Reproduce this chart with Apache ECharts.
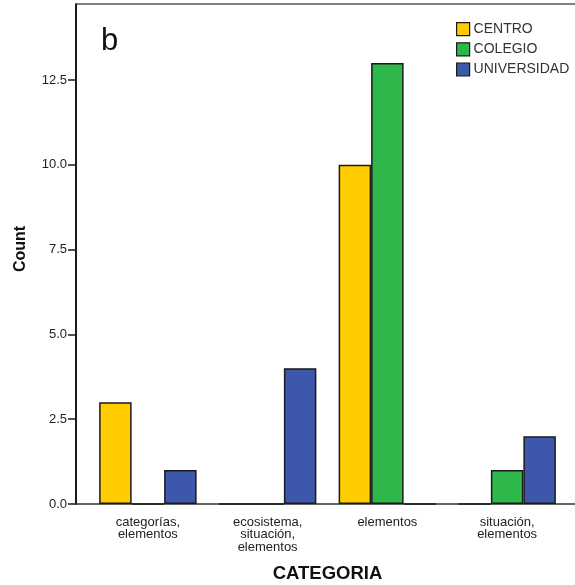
<!DOCTYPE html>
<html>
<head>
<meta charset="utf-8">
<script src="https://cdn.jsdelivr.net/npm/echarts@6/dist/echarts.min.js"></script>
<style>html,body{margin:0;padding:0;background:#fff}#c{width:575px;height:585px}</style>
</head>
<body>
<div id="c"></div>
<script>
var categories = ['categorías,\nelementos', 'ecosistema,\nsituación,\nelementos', 'elementos', 'situación,\nelementos'];
var seriesNames = ['CENTRO', 'COLEGIO', 'UNIVERSIDAD'];
var centro = [3, 0, 10, 0];
var colegio = [0, 0, 13, 1];
var universidad = [1, 4, 0, 2];
var yTicks = [0, 2.5, 5, 7.5, 10, 12.5];
var colors = ['#FFCC00', '#2EB84B', '#3D58AB'];

var FONT = '"Liberation Sans", Arial, sans-serif';
var chart = echarts.init(document.getElementById('c'), null, {renderer: 'canvas', width: 575, height: 585});
var values = [centro, colegio, universidad];
var series = seriesNames.map(function (n, i) {
  return {
    name: n, type: 'bar', data: values[i],
    barGap: '0%', barCategoryGap: '18.6%',
    itemStyle: {color: colors[i], borderColor: '#1a1a1a', borderWidth: 1.5},
    emphasis: {disabled: true}
  };
});
chart.setOption({
  animation: false,
  backgroundColor: '#fff',
  textStyle: {fontFamily: FONT},
  title: {text: 'b', left: 96, top: 21, textStyle: {fontSize: 31, fontWeight: 'normal', color: '#111', fontFamily: FONT}},
  legend: {
    orient: 'vertical', left: 451, top: 17, itemWidth: 13, itemHeight: 13, itemGap: 6,
    icon: 'rect', selectedMode: false,
    itemStyle: {borderColor: '#1a1a1a', borderWidth: 1.2},
    textStyle: {fontSize: 14, color: '#333', fontFamily: FONT, padding: [0, 0, 0, -1]}
  },
  grid: {left: 88, width: 479, top: 4, height: 500, containLabel: false, outerBoundsMode: 'none'},
  xAxis: {
    type: 'category', data: categories,
    name: 'CATEGORIA', nameLocation: 'middle', nameGap: 60,
    nameTextStyle: {fontSize: 18.5, fontWeight: 'bold', color: '#111', fontFamily: FONT},
    axisLine: {show: false},
    axisTick: {alignWithLabel: true, length: 6, lineStyle: {color: '#222', width: 1.5}},
    axisLabel: {interval: 0, fontSize: 13, lineHeight: 12.5, margin: 12, color: '#222', fontFamily: FONT}
  },
  yAxis: {
    type: 'value', min: 0, max: 14.74, offset: 12,
    name: 'Count', nameLocation: 'middle', nameGap: 47,
    nameTextStyle: {fontSize: 16, fontWeight: 'bold', color: '#111', fontFamily: FONT, padding: [0, 0, 0, 10]},
    axisLine: {show: true, lineStyle: {color: '#1a1a1a', width: 2}},
    axisTick: {show: true, length: 8, customValues: yTicks, lineStyle: {color: '#1a1a1a', width: 1.5}},
    axisLabel: {fontSize: 13, color: '#222', margin: 9, customValues: yTicks, fontFamily: FONT, formatter: function (v) { return v.toFixed(1); }},
    splitLine: {show: false}
  },
  graphic: [
    {type: 'line', shape: {x1: 76, y1: 4, x2: 575, y2: 4}, style: {stroke: '#555', lineWidth: 1.5}, z: 1},
    {type: 'line', shape: {x1: 76, y1: 504, x2: 575, y2: 504}, style: {stroke: '#333', lineWidth: 1.5}, z: 1}
  ],
  series: series
});
</script>
</body>
</html>
